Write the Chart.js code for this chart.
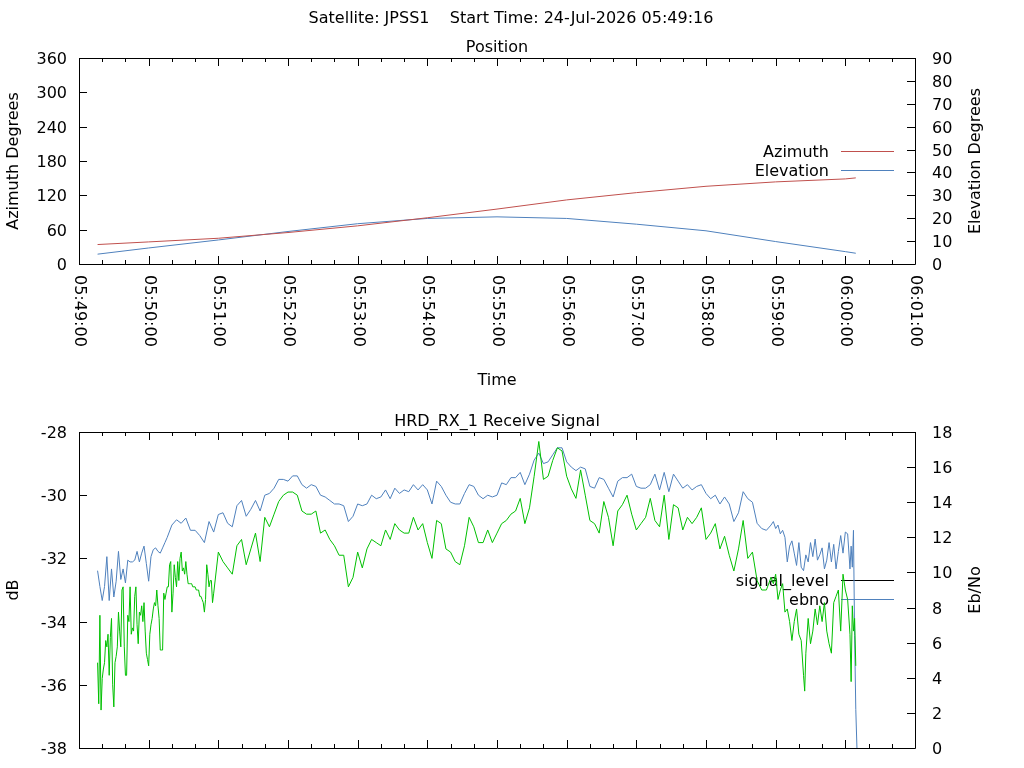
<!DOCTYPE html>
<html>
<head>
<meta charset="utf-8">
<script src="https://cdn.jsdelivr.net/npm/chart.js@4.4.1/dist/chart.umd.min.js"></script>
<style>
  body { margin: 0; background: #fff; }
  #wrap { position: relative; width: 1024px; height: 768px; overflow: hidden; }
  canvas { position: absolute; left: 0; }
</style>
</head>
<body>
<div id="wrap">
  <canvas id="chart-position" width="1024" height="400" style="top:0"></canvas>
  <canvas id="chart-signal" width="1024" height="368" style="top:400px"></canvas>
</div>
<script>
// ── Data (time in seconds after 05:49:00) ─────────────────────
const SUPER_TITLE = 'Satellite: JPSS1    Start Time: 24-Jul-2026 05:49:16';
const TIME_LABELS = ['05:49:00', '05:50:00', '05:51:00', '05:52:00', '05:53:00', '05:54:00', '05:55:00',
                     '05:56:00', '05:57:00', '05:58:00', '05:59:00', '06:00:00', '06:01:00'];
const AZ_TICKS   = [0, 60, 120, 180, 240, 300, 360];
const EL_TICKS   = [0, 10, 20, 30, 40, 50, 60, 70, 80, 90];
const DB_TICKS   = [-38, -36, -34, -32, -30, -28];
const EBNO_TICKS = [0, 2, 4, 6, 8, 10, 12, 14, 16, 18];

const POS_T     = [16, 60, 120, 180, 240, 300, 360, 420, 480, 540, 600, 660, 669];
const AZIMUTH   = [34.0, 38.6, 45.0, 55.0, 66.7, 80.8, 96.0, 112.0, 124.7, 135.8, 143.5, 148.7, 150.5];
const ELEVATION = [4.3, 7.0, 10.5, 14.2, 17.6, 19.9, 20.6, 19.9, 17.4, 14.5, 9.8, 5.4, 4.7];

const SIG_T = [
  16, 17, 18, 19, 20, 21, 22, 23, 24, 25, 26, 27, 28, 29, 30, 31, 32, 33, 34, 35, 36, 37, 38, 39, 40,
  41, 42, 43, 44, 45, 46, 47, 48, 49, 50, 51, 52, 53, 54, 55, 56, 57, 58, 59, 60, 61, 62, 63, 64, 65,
  66, 67, 68, 69, 70, 71, 72, 73, 74, 75, 76, 77, 78, 79, 80, 81, 82, 83, 84, 85, 86, 87, 88, 89, 90,
  91, 92, 93, 94, 95, 96, 97, 98, 99, 100, 101, 102, 103, 104, 105, 106, 107, 108, 109, 110, 111, 112,
  113, 114, 115, 116,
  120, 124, 128, 132, 136, 140, 144, 148, 152, 156, 160, 164, 168, 172, 176, 180, 184, 188, 192, 196,
  200, 204, 208, 212, 216, 220, 224, 228, 232, 236, 240, 244, 248, 252, 256, 260, 264, 268, 272, 276,
  280, 284, 288, 292, 296, 300, 304, 308, 312, 316, 320, 324, 328, 332, 336, 340, 344, 348, 352, 356,
  360, 364, 368, 372, 376, 380, 384, 388, 392, 396, 400, 404, 408, 412, 416, 420, 424, 428, 432, 436,
  440, 444, 448, 452, 456, 460, 464, 468, 472, 476, 480, 484, 488, 492, 496, 500, 504, 508, 512, 516,
  520, 524, 528, 532, 536, 540, 544, 548, 552, 556, 560, 564, 568, 572, 576, 580, 584, 588, 592,
  596, 598, 600, 602, 604, 606, 608, 610, 612, 614, 616, 618, 620, 622, 624, 625, 626, 628, 630, 632,
  634, 636, 638, 640, 642, 644, 646, 648, 650, 652, 654, 656, 658, 660, 662, 664, 665, 666, 667, 668, 669];
const SIG_DB = [
  -35.3, -36.6, -33.8, -36.8, -35.8, -35.5, -35.3, -34.6, -34.8, -34.4, -35.7, -34.5, -33.9, -36.0,
  -36.7, -35.3, -35.1, -34.8, -33.7, -34.3, -34.8, -33.0, -32.9, -34.8, -35.7, -35.7, -33.8, -34.0,
  -32.9, -34.4, -34.2, -34.3, -33.2, -32.9, -34.1, -34.7, -33.7, -33.8, -33.5, -34.0, -33.4, -34.3,
  -35.0, -35.2, -35.4, -34.4, -34.1, -33.9, -33.6, -33.4, -33.5, -33.0, -33.5, -33.9, -34.9, -34.9,
  -34.9, -33.1, -33.3, -33.1, -32.9, -32.9, -32.2, -32.1, -33.7, -33.1, -32.2, -32.6, -32.9, -32.1,
  -32.7, -32.0, -31.8, -32.4, -32.3, -32.5, -32.1, -32.5, -32.8, -32.8, -32.8, -32.8, -32.9, -32.9,
  -32.9, -33.0, -33.0, -33.0, -33.2, -33.2, -33.3, -33.4, -33.7, -33.3, -32.2, -32.5, -32.9, -32.7,
  -32.7, -33.4, -33.1,
  -31.8, -32.1, -32.3, -32.5, -31.6, -31.4, -32.2, -31.7, -31.2, -32.1, -30.7, -31.0, -30.6, -30.2,
  -30.0, -29.9, -29.9, -30.0, -30.5, -30.6, -30.6, -30.5, -31.2, -31.1, -31.4, -31.6, -31.9, -31.9,
  -32.9, -32.6, -31.8, -32.3, -31.7, -31.4, -31.5, -31.6, -31.1, -31.4, -30.9, -31.1, -31.2, -31.2,
  -30.7, -31.1, -30.9, -31.5, -32.0, -30.8, -30.9, -31.7, -31.8, -32.1, -32.2, -31.6, -30.7, -31.0,
  -31.5, -31.5, -31.1, -31.5, -31.2, -30.9, -30.8, -30.6, -30.5, -30.1, -30.9, -30.4, -29.4, -28.3,
  -29.5, -29.4, -28.9, -28.5, -28.6, -29.4, -29.8, -30.1, -29.2, -30.0, -30.8, -30.9, -31.2, -30.2,
  -30.7, -31.6, -30.5, -30.3, -30.0, -30.6, -31.1, -30.9, -30.7, -30.1, -30.8, -31.0, -30.0, -31.4,
  -30.3, -30.4, -31.1, -30.7, -30.9, -30.7, -30.4, -31.4, -31.2, -30.9, -31.7, -31.3, -31.9, -32.4,
  -31.7, -30.8, -32.0, -31.8, -32.7, -33.0, -33.0,
  -32.6, -32.8, -32.5, -33.3, -33.0, -32.8, -33.7, -33.6, -34.0, -34.6, -34.0, -33.6, -34.4, -34.6,
  -35.7, -36.2, -35.0, -33.9, -34.7, -34.3, -33.6, -34.1, -33.5, -34.0, -33.4, -34.3, -34.7, -35.0,
  -33.4, -33.2, -33.0, -34.3, -32.5, -33.0, -33.3, -34.4, -35.9, -33.5, -34.3, -33.9, -35.4];

const EBNO_T = [
  16, 18, 20, 22, 24, 26, 28, 30, 32, 34, 36, 38, 40, 42, 44, 46, 48, 50, 52, 54, 56, 58, 60, 62, 64,
  66, 68, 70, 72, 74,
  76, 80, 84, 88, 92, 96, 100, 104, 108, 112, 116, 120, 124, 128, 132, 136, 140, 144, 148, 152, 156,
  160, 164, 168, 172, 176, 180, 184, 188, 192, 196, 200, 204, 208, 212, 216, 220, 224, 228, 232, 236,
  240, 244, 248, 252, 256, 260, 264, 268, 272, 276, 280, 284, 288, 292, 296, 300, 304, 308, 312, 316,
  320, 324, 328, 332, 336, 340, 344, 348, 352, 356, 360, 364, 368, 372, 376, 380, 384, 388, 392, 396,
  400, 404, 408, 412, 416, 420, 424, 428, 432, 436, 440, 444, 448, 452, 456, 460, 464, 468, 472, 476,
  480, 484, 488, 492, 496, 500, 504, 508, 512, 516, 520, 524, 528, 532, 536, 540, 544, 548, 552, 556,
  560, 564, 568, 572, 576, 580, 584, 588, 592,
  596, 598, 600, 602, 604, 606, 608, 610, 612, 614, 616, 618, 620, 622, 624, 626, 628, 630, 632, 634,
  636, 638, 640, 642, 644, 646, 648, 650, 652, 654, 656, 658, 660, 662, 664, 665, 666, 667, 668, 669, 670];
const EBNO = [
  10.1, 9.2, 8.4, 9.2, 10.9, 8.4, 10.2, 8.6, 9.5, 11.2, 9.6, 10.2, 9.4, 10.7, 10.6, 10.6, 10.7, 11.2,
  10.6, 11.1, 11.5, 10.5, 9.5, 10.9, 11.3, 11.4, 11.2, 11.1, 11.4, 11.7,
  12.0, 12.7, 13.0, 12.8, 13.1, 12.4, 12.4, 12.1, 11.7, 12.9, 12.3, 13.3, 13.4, 12.8, 12.6, 13.8, 14.1,
  13.2, 13.6, 14.1, 13.5, 14.4, 14.5, 14.8, 15.3, 15.3, 15.2, 15.5, 15.5, 15.0, 14.8, 15.0, 14.9, 14.4,
  14.3, 14.1, 13.9, 13.9, 13.8, 12.9, 13.2, 13.9, 13.8, 13.9, 14.4, 14.2, 14.3, 14.7, 14.2, 14.8, 14.5,
  14.7, 14.6, 15.0, 14.7, 15.0, 14.7, 13.9, 15.2, 14.9, 14.4, 14.0, 13.9, 13.9, 14.5, 15.0, 14.9, 14.4,
  14.2, 14.4, 14.3, 14.4, 15.1, 15.0, 15.4, 15.4, 15.7, 15.0, 15.6, 16.4, 16.8, 16.2, 16.3, 16.7, 17.1,
  17.1, 16.3, 16.0, 15.8, 16.0, 15.9, 14.9, 14.8, 15.4, 15.3, 14.8, 14.3, 15.2, 15.4, 15.4, 15.6, 14.9,
  14.8, 14.8, 15.0, 15.6, 14.7, 15.7, 14.6, 15.6, 15.2, 14.8, 15.0, 14.7, 14.9, 15.0, 14.5, 14.2, 14.4,
  13.9, 14.3, 13.9, 12.9, 13.4, 14.6, 14.2, 14.0, 12.8, 12.5, 12.4,
  12.7, 12.9, 12.5, 12.7, 12.2, 12.4, 12.0, 10.6, 11.5, 11.8, 11.1, 10.4, 11.7, 10.3, 10.1, 11.0, 10.6,
  11.7, 10.9, 11.9, 10.7, 11.0, 11.4, 10.2, 10.7, 11.7, 10.6, 11.6, 10.2, 11.2, 12.1, 11.1, 12.3, 12.2,
  10.2, 11.5, 10.3, 12.4, 6.4, 2.2, 0];

// ── Look ──────────────────────────────────────────────────────
const FONT  = '16px "DejaVu Sans"';
const RED   = 'rgb(192,80,77)';
const BLUE  = 'rgb(79,129,189)';
const GREEN = 'rgb(0,192,0)';

const pairs = (ts, vs) => ts.map((t, i) => ({ x: t, y: vs[i] }));

// ── gnuplot-like frame: border, inward ticks, labels, key ─────
function gnuplotFrame(cfg) {
  return {
    id: 'gnuplotFrame',
    beforeDatasetsDraw(chart) {
      const { ctx, chartArea: a } = chart;
      const R = Math.round(a.right), T = Math.round(a.top);
      ctx.save();
      ctx.font = FONT;
      ctx.fillStyle = '#000';
      ctx.textAlign = 'right';
      ctx.textBaseline = 'alphabetic';
      cfg.key.forEach(k => {
        const y = T + k.dy;
        ctx.fillText(k.label, R - 86, y + 6);
        ctx.strokeStyle = k.color;
        ctx.lineWidth = 1;
        ctx.beginPath();
        ctx.moveTo(R - 74, y + 0.5);
        ctx.lineTo(R - 21, y + 0.5);
        ctx.stroke();
      });
      ctx.restore();
    },
    afterDatasetsDraw(chart) {
      const { ctx, chartArea: a, scales } = chart;
      const L = Math.round(a.left), R = Math.round(a.right);
      const T = Math.round(a.top), B = Math.round(a.bottom);
      ctx.save();
      ctx.strokeStyle = '#000';
      ctx.lineWidth = 1;
      ctx.beginPath();
      ctx.rect(L + 0.5, T + 0.5, R - L, B - T);
      // x ticks: major each minute, minor every 20 s
      TIME_LABELS.forEach((lab, i) => {
        [0, 20, 40].forEach(off => {
          const s = i * 60 + off;
          if (s > scales.x.max) return;
          const px = Math.round(scales.x.getPixelForValue(s)) + 0.5;
          const len = off ? 4 : 8;
          ctx.moveTo(px, B); ctx.lineTo(px, B - len);
          ctx.moveTo(px, T); ctx.lineTo(px, T + len);
        });
      });
      cfg.leftTicks.forEach(v => {
        const py = Math.round(scales.y.getPixelForValue(v)) + 0.5;
        ctx.moveTo(L, py); ctx.lineTo(L + 8, py);
      });
      cfg.rightTicks.forEach(v => {
        const py = Math.round(scales.y2.getPixelForValue(v)) + 0.5;
        ctx.moveTo(R, py); ctx.lineTo(R - 8, py);
      });
      ctx.stroke();

      ctx.font = FONT;
      ctx.fillStyle = '#000';
      ctx.textBaseline = 'alphabetic';
      ctx.textAlign = 'right';
      cfg.leftTicks.forEach(v => ctx.fillText(String(v), L - 12, scales.y.getPixelForValue(v) + 6));
      ctx.textAlign = 'left';
      cfg.rightTicks.forEach(v => ctx.fillText(String(v), R + 17, scales.y2.getPixelForValue(v) + 6));

      ctx.textAlign = 'center';
      ctx.fillText(cfg.title, (L + R) / 2, T - 6);
      if (cfg.superTitle) ctx.fillText(cfg.superTitle, 511, 23);
      if (cfg.xTitle) ctx.fillText(cfg.xTitle, (L + R) / 2, B + 121);

      const mid = (T + B) / 2;
      [[18, cfg.leftTitle], [980, cfg.rightTitle]].forEach(([x, txt]) => {
        ctx.save();
        ctx.translate(x, mid);
        ctx.rotate(-Math.PI / 2);
        ctx.fillText(txt, 0, 0);
        ctx.restore();
      });

      if (cfg.timeLabels) {
        ctx.textAlign = 'left';
        ctx.textBaseline = 'middle';
        TIME_LABELS.forEach((lab, i) => {
          ctx.save();
          ctx.translate(Math.round(scales.x.getPixelForValue(i * 60)) + 0.5, B + 11);
          ctx.rotate(Math.PI / 2);
          ctx.fillText(lab, 0, 0);
          ctx.restore();
        });
      }
      ctx.restore();
    }
  };
}

const baseOptions = (pad, yMin, yMax, y2Min, y2Max) => ({
  responsive: false,
  animation: false,
  devicePixelRatio: 1,
  events: [],
  layout: { padding: pad },
  plugins: { legend: { display: false }, tooltip: { enabled: false } },
  scales: {
    x:  { type: 'linear', min: 0, max: 720, display: false },
    y:  { type: 'linear', min: yMin, max: yMax, display: false },
    y2: { type: 'linear', min: y2Min, max: y2Max, display: false, position: 'right' }
  }
});

const lineSet = (label, data, color, axis) => ({
  label, data, yAxisID: axis,
  borderColor: color, borderWidth: 1, pointRadius: 0, tension: 0, fill: false
});

// ── Position chart ────────────────────────────────────────────
new Chart(document.getElementById('chart-position'), {
  type: 'line',
  data: {
    datasets: [
      lineSet('Azimuth', pairs(POS_T, AZIMUTH), RED, 'y'),
      lineSet('Elevation', pairs(POS_T, ELEVATION), BLUE, 'y2')
    ]
  },
  options: baseOptions({ left: 79, right: 109, top: 58, bottom: 136 }, 0, 360, 0, 90),
  plugins: [gnuplotFrame({
    superTitle: SUPER_TITLE,
    title: 'Position',
    xTitle: 'Time',
    leftTitle: 'Azimuth Degrees',
    rightTitle: 'Elevation Degrees',
    leftTicks: AZ_TICKS,
    rightTicks: EL_TICKS,
    timeLabels: true,
    key: [{ label: 'Azimuth', color: RED, dy: 93 }, { label: 'Elevation', color: BLUE, dy: 112 }]
  })]
});

// ── Receive signal chart ──────────────────────────────────────
new Chart(document.getElementById('chart-signal'), {
  type: 'line',
  data: {
    datasets: [
      lineSet('signal_level', pairs(SIG_T, SIG_DB), GREEN, 'y'),
      lineSet('ebno', pairs(EBNO_T, EBNO), BLUE, 'y2')
    ]
  },
  options: baseOptions({ left: 79, right: 109, top: 32, bottom: 20 }, -38, -28, 0, 18),
  plugins: [gnuplotFrame({
    title: 'HRD_RX_1 Receive Signal',
    leftTitle: 'dB',
    rightTitle: 'Eb/No',
    leftTicks: DB_TICKS,
    rightTicks: EBNO_TICKS,
    timeLabels: false,
    key: [{ label: 'signal_level', color: '#000', dy: 148 }, { label: 'ebno', color: BLUE, dy: 167 }]
  })]
});
</script>
</body>
</html>
